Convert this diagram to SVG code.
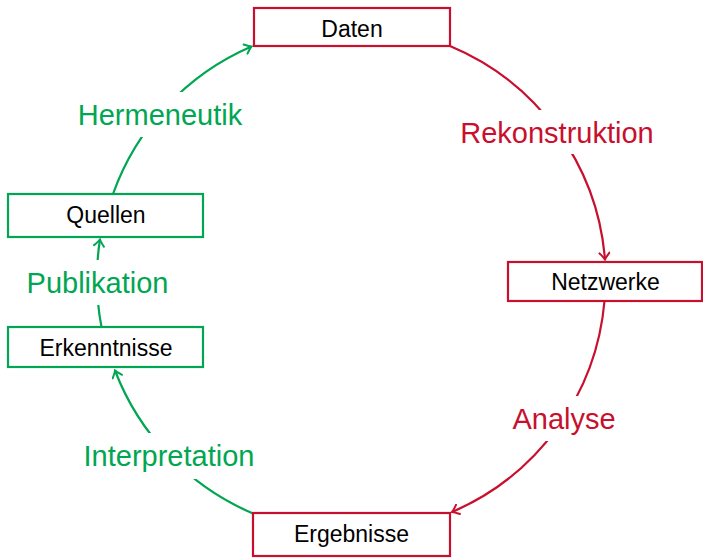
<svg xmlns="http://www.w3.org/2000/svg" width="703" height="558" viewBox="0 0 703 558">
  <defs>
    <style>
      .box { fill: #ffffff; stroke-width: 2.2; }
      .red { stroke: #C8102E; }
      .green { stroke: #00A651; }
      .ntext { font-family: "Liberation Sans", Arial, sans-serif; font-size: 23px; fill: #000000; text-anchor: middle; }
      .edge { fill: none; stroke-width: 2.2; }
      .lbl { font-family: "Liberation Sans", Arial, sans-serif; font-size: 29px; text-anchor: middle; }
      .lbg { fill: #ffffff; stroke: none; }
    </style>
    <marker id="arrR" viewBox="-8 -6 10 12" markerWidth="10" markerHeight="12" refX="0" refY="0" orient="auto" markerUnits="userSpaceOnUse">
      <path d="M -6.5,-5 Q -2,-1 0,0 Q -2,1 -6.5,5" fill="none" stroke="#C8102E" stroke-width="2" stroke-linecap="round"/>
    </marker>
    <marker id="arrG" viewBox="-8 -6 10 12" markerWidth="10" markerHeight="12" refX="0" refY="0" orient="auto" markerUnits="userSpaceOnUse">
      <path d="M -6.5,-5 Q -2,-1 0,0 Q -2,1 -6.5,5" fill="none" stroke="#00A651" stroke-width="2" stroke-linecap="round"/>
    </marker>
  </defs>
  <rect x="0" y="0" width="703" height="558" fill="#ffffff"/>

  <g id="connectors">
    <path class="edge red" d="M 450,46 A 253.5 253.5 0 0 1 605,259.5" marker-end="url(#arrR)"/>
    <path class="edge red" d="M 604.5,301 A 253.5 253.5 0 0 1 452,512" marker-end="url(#arrR)"/>
    <path class="edge green" d="M 253,513.5 A 253.5 253.5 0 0 1 115,370.5" marker-end="url(#arrG)"/>
    <path class="edge green" d="M 101.5,327 A 253.5 253.5 0 0 1 100,239.5" marker-end="url(#arrG)"/>
    <path class="edge green" d="M 113,194 A 253.5 253.5 0 0 1 251.5,46.5" marker-end="url(#arrG)"/>

    <rect class="lbg" x="72" y="92" width="176" height="45"/>
    <text class="lbl" x="160" y="125" fill="#00A651">Hermeneutik</text>
    <rect class="lbg" x="455" y="110" width="204" height="44"/>
    <text class="lbl" x="557" y="143" fill="#C8102E">Rekonstruktion</text>
    <rect class="lbg" x="20" y="260" width="155" height="45"/>
    <text class="lbl" x="97.5" y="293" fill="#00A651">Publikation</text>
    <rect class="lbg" x="76" y="433" width="186" height="46"/>
    <text class="lbl" x="169" y="466" fill="#00A651">Interpretation</text>
    <rect class="lbg" x="509" y="396" width="110" height="45"/>
    <text class="lbl" x="564" y="429" fill="#C8102E">Analyse</text>
  </g>

  <g id="node-daten">
    <rect class="box red" x="254" y="8" width="196" height="38"/>
    <text class="ntext" x="352" y="37">Daten</text>
  </g>
  <g id="node-netzwerke">
    <rect class="box red" x="508" y="262" width="194" height="39"/>
    <text class="ntext" x="605.5" y="290">Netzwerke</text>
  </g>
  <g id="node-ergebnisse">
    <rect class="box red" x="253" y="513" width="197" height="43"/>
    <text class="ntext" x="351.5" y="541.5">Ergebnisse</text>
  </g>
  <g id="node-erkenntnisse">
    <rect class="box green" x="8" y="327" width="195" height="40"/>
    <text class="ntext" x="106" y="356">Erkenntnisse</text>
  </g>
  <g id="node-quellen">
    <rect class="box green" x="8" y="194" width="195" height="43"/>
    <text class="ntext" x="106" y="222.5">Quellen</text>
  </g>
</svg>
